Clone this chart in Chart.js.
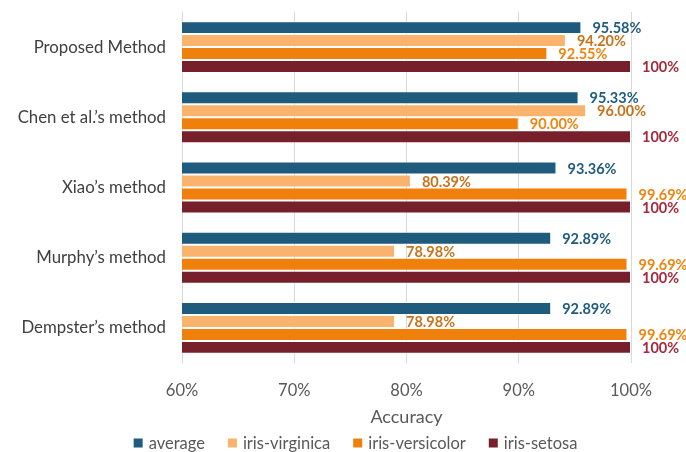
<!DOCTYPE html>
<html>
<head>
<meta charset="utf-8">
<script src="https://cdn.jsdelivr.net/npm/chart.js@4.4.1/dist/chart.umd.min.js"></script>
<style>
  html, body { margin: 0; padding: 0; background: #ffffff; }
  #wrap { width: 686px; height: 452px; }
</style>
</head>
<body>
<div id="wrap"><canvas id="c" width="686" height="452"></canvas></div>
<script>
// Classification accuracy (%) per fusion method
const methods = ["Proposed Method", "Chen et al.\u2019s method", "Xiao\u2019s method", "Murphy\u2019s method", "Dempster\u2019s method"];
const average = [95.58, 95.33, 93.36, 92.89, 92.89];
const irisVirginica = [94.20, 96.00, 80.39, 78.98, 78.98];
const irisVersicolor = [92.55, 90.00, 99.69, 99.69, 99.69];
const irisSetosa = [100, 100, 100, 100, 100];
const xTicks = [60, 70, 80, 90, 100];

const seriesNames = ["average", "iris-virginica", "iris-versicolor", "iris-setosa"];
const seriesValues = [average, irisVirginica, irisVersicolor, irisSetosa];
const barColors = ["#1F5B7D", "#F9B36C", "#EF800C", "#771F2A"];
const labelColors = ["#1F5B7D", "#C6731C", "#F0840F", "#A52A3C"];

const FONT = "Lato, 'DejaVu Sans', sans-serif";

// full marks are written without decimals, everything else with two
function fmt(v) {
  return v >= 100 ? "100%" : v.toFixed(2) + "%";
}

// value labels drawn just past the end of each bar
const valueLabels = {
  id: "valueLabels",
  afterDatasetsDraw(chart) {
    const ctx = chart.ctx;
    ctx.save();
    ctx.font = "bold 14.5px " + FONT;
    ctx.textAlign = "left";
    ctx.textBaseline = "middle";
    chart.data.datasets.forEach((ds, i) => {
      const meta = chart.getDatasetMeta(i);
      meta.data.forEach((bar, j) => {
        ctx.fillStyle = labelColors[i];
        ctx.fillText(fmt(ds.data[j]), bar.x + 11, bar.y + 1);
      });
    });
    ctx.restore();
  }
};

// single-row legend under the axis title
const bottomLegend = {
  id: "bottomLegend",
  afterDraw(chart) {
    const ctx = chart.ctx;
    const box = 9, gap = 6, spacing = 23;
    ctx.save();
    ctx.font = "16.5px " + FONT;
    ctx.textBaseline = "middle";
    ctx.textAlign = "left";
    const items = chart.data.datasets.map(ds => ({
      text: ds.label, color: ds.backgroundColor, w: ctx.measureText(ds.label).width
    }));
    const total = items.reduce((s, it) => s + box + gap + it.w, 0) + spacing * (items.length - 1);
    let x = 355.5 - total / 2;
    const y = 443;
    items.forEach(it => {
      ctx.fillStyle = it.color;
      ctx.fillRect(x, y - box / 2, box, box);
      x += box + gap;
      ctx.fillStyle = "#595959";
      ctx.fillText(it.text, x, y + 1);
      x += it.w + spacing;
    });
    ctx.restore();
  }
};

new Chart(document.getElementById("c"), {
  type: "bar",
  data: {
    labels: methods,
    datasets: seriesNames.map((name, i) => ({
      label: name,
      data: seriesValues[i],
      backgroundColor: barColors[i],
      borderColor: "rgba(255,255,255,0.55)",
      borderWidth: 1,
      borderSkipped: false,
      barPercentage: 1.0,
      categoryPercentage: 0.74
    }))
  },
  options: {
    indexAxis: "y",
    responsive: false,
    animation: false,
    devicePixelRatio: 1,
    layout: { padding: { top: 12, right: 55, left: 0, bottom: 24 } },
    scales: {
      x: {
        min: 60,
        max: 100,
        afterBuildTicks(scale) { scale.ticks = xTicks.map(v => ({ value: v })); },
        afterFit(scale) {
          scale.height = 65;
          scale.paddingLeft = 0;
          scale.paddingRight = 0;
        },
        ticks: {
          callback: v => v + "%",
          color: "#595959",
          font: { family: FONT, size: 16.5 },
          padding: 18
        },
        grid: { color: "#D9D9D9", lineWidth: 1, drawTicks: false },
        border: { display: false },
        title: {
          display: true,
          text: "Accuracy",
          color: "#595959",
          font: { family: FONT, size: 18 },
          padding: { top: 8, bottom: 0 }
        }
      },
      y: {
        ticks: {
          color: "#404040",
          font: { family: FONT, size: 16.8 },
          padding: 16
        },
        grid: { display: false, drawTicks: false },
        border: { display: false },
        afterFit(scale) {
          scale.width = 182;
          scale.paddingTop = 0;
          scale.paddingBottom = 0;
        }
      }
    },
    plugins: {
      legend: { display: false },
      tooltip: { enabled: false }
    }
  },
  plugins: [valueLabels, bottomLegend]
});
</script>
</body>
</html>
